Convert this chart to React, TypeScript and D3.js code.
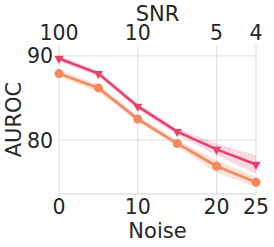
import React from 'react';
import * as d3 from 'd3';

// noise levels on the bottom axis
const noise = [0, 5, 10, 15, 20, 25];

// top axis: SNR labels placed at noise positions
const snrTicks = [0, 10, 20, 25];
const snrLabels = ['100', '10', '5', '4'];

// AUROC means and CI half-widths
const pinkMean = [89.7, 87.9, 84.0, 81.0, 78.9, 77.1];
const pinkCi = [0.35, 0.35, 0.35, 0.35, 0.7, 1.1];
const orangeMean = [87.9, 86.2, 82.5, 79.6, 76.9, 75.0];
const orangeCi = [0.4, 0.45, 0.35, 0.35, 0.75, 0.55];

const yTicks = [80, 90];
const xTicks = [0, 10, 20, 25];

const W = 274;
const H = 247;
const margin = { left: 59, right: 18, top: 45, bottom: 53 };

const PINK = '#e8416d';
const ORANGE = '#f4895f';

const App: React.FC = () => {
  const x = d3.scaleLinear().domain([0, 25]).range([margin.left, W - margin.right]);
  const y = d3.scaleLinear().domain([73.6, 91.3]).range([H - margin.bottom, margin.top]);

  const line = d3.line<number>().x((_, i) => x(noise[i])).y(d => y(d));
  const band = (mean: number[], ci: number[]) =>
    d3.area<number>()
      .x((_, i) => x(noise[i]))
      .y0((d, i) => y(d - ci[i]))
      .y1((d, i) => y(d + ci[i]))(mean) || '';

  const tri = d3.symbol().type(d3.symbolTriangle).size(38)() || '';
  const font = 'DejaVu Sans, sans-serif';

  return (
    <svg width={W} height={H} style={{ position: 'absolute', left: 0, top: 0 }} fontFamily={font}>
      {/* grid */}
      {xTicks.map(t => (
        <line key={'gx' + t} x1={x(t)} x2={x(t)} y1={margin.top} y2={H - margin.bottom} stroke="#dcdcdc" strokeWidth={1} />
      ))}
      {yTicks.map(t => (
        <line key={'gy' + t} x1={margin.left} x2={W - margin.right} y1={y(t)} y2={y(t)} stroke="#dcdcdc" strokeWidth={1} />
      ))}
      <line x1={margin.left} x2={W - margin.right} y1={H - margin.bottom} y2={H - margin.bottom} stroke="#d0d0d0" strokeWidth={1} />

      {/* bands */}
      <path d={band(pinkMean, pinkCi)} fill={PINK} fillOpacity={0.2} />
      <path d={band(orangeMean, orangeCi)} fill={ORANGE} fillOpacity={0.25} />

      {/* lines */}
      <path d={line(orangeMean) || ''} fill="none" stroke={ORANGE} strokeWidth={2.6} />
      <path d={line(pinkMean) || ''} fill="none" stroke={PINK} strokeWidth={2.6} />

      {orangeMean.map((v, i) => (
        <circle key={'o' + i} cx={x(noise[i])} cy={y(v)} r={4.5} fill={ORANGE} />
      ))}
      {pinkMean.map((v, i) => (
        <path key={'p' + i} d={tri} transform={`translate(${x(noise[i])},${y(v)}) rotate(180)`} fill={PINK} />
      ))}

      {/* bottom axis */}
      {xTicks.map(t => (
        <text key={'xl' + t} x={x(t)} y={214} textAnchor="middle" fontSize={20.5} fill="#262626">{t}</text>
      ))}
      <text x={(x(0) + x(25)) / 2} y={238} textAnchor="middle" fontSize={21} fill="#262626">Noise</text>

      {/* top axis */}
      {snrTicks.map((t, i) => (
        <text key={'sl' + t} x={x(t)} y={40} textAnchor="middle" fontSize={20.5} fill="#262626">{snrLabels[i]}</text>
      ))}
      <text x={(x(0) + x(25)) / 2} y={20.5} textAnchor="middle" fontSize={21} fill="#262626">SNR</text>

      {/* left axis */}
      {yTicks.map(t => (
        <text key={'yl' + t} x={53} y={y(t)} dy="0.36em" textAnchor="end" fontSize={20.5} fill="#262626">{t}</text>
      ))}
      <text transform={`translate(20.5,${(margin.top + H - margin.bottom) / 2}) rotate(-90)`} textAnchor="middle" fontSize={21} fill="#262626">AUROC</text>
    </svg>
  );
};

export default App;
